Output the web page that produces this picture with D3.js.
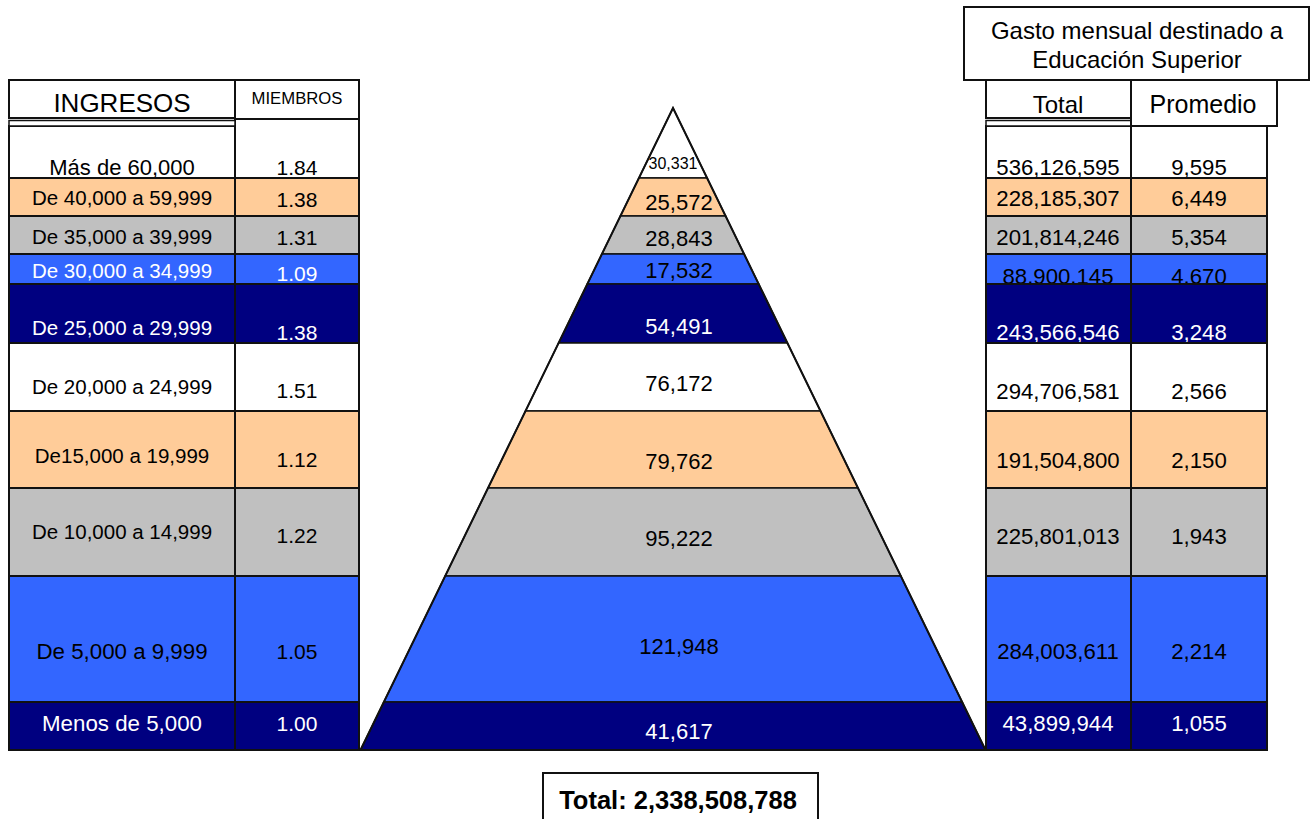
<!DOCTYPE html>
<html>
<head>
<meta charset="utf-8">
<script src="https://cdn.jsdelivr.net/npm/d3@7"></script>
<style>
  body { margin: 0; background: #fff; }
  svg { display: block; font-family: "Liberation Sans", Arial, sans-serif; }
</style>
</head>
<body>
<svg id="chart" width="1316" height="819"></svg>
<script>
// data
const ingresos = ["Más de 60,000", "De 40,000 a 59,999", "De 35,000 a 39,999", "De 30,000 a 34,999",
  "De 25,000 a 29,999", "De 20,000 a 24,999", "De15,000 a 19,999", "De 10,000 a 14,999",
  "De 5,000 a 9,999", "Menos de 5,000"];
const miembros = [1.84, 1.38, 1.31, 1.09, 1.38, 1.51, 1.12, 1.22, 1.05, 1.00];
const hogares = [30331, 25572, 28843, 17532, 54491, 76172, 79762, 95222, 121948, 41617];
const gastoTotal = [536126595, 228185307, 201814246, 88900145, 243566546, 294706581,
  191504800, 225801013, 284003611, 43899944];
const gastoPromedio = [9595, 6449, 5354, 4670, 3248, 2566, 2150, 1943, 2214, 1055];

// layout (row edges follow the spreadsheet rows)
const rowEdges = [126, 178, 216, 254, 284, 343, 411, 488, 576, 702, 750];
const labelY = [167, 198, 237, 271, 328, 387, 456, 532, 651, 723];
const miembY = [167, 199, 237, 273, 332, 390, 459, 535, 651, 723];
const pyrY = [163, 202, 238, 270, 326, 383, 461, 538, 646, 731];
const rightY = [167, 198, 237, 276, 332, 391, 460, 536, 651, 723];
const labelSize = [22, 20.5, 20.5, 20.5, 20.5, 20.5, 20.5, 20.5, 22.3, 22.3];

const fills = ["#FFFFFF", "#FFCC99", "#C0C0C0", "#3366FF", "#000080",
  "#FFFFFF", "#FFCC99", "#C0C0C0", "#3366FF", "#000080"];
const leftInk = ["#000", "#000", "#000", "#fff", "#fff", "#000", "#000", "#000", "#000", "#fff"];
const midInk = ["#000", "#000", "#000", "#000", "#fff", "#000", "#000", "#000", "#000", "#fff"];
const rightInk = ["#000", "#000", "#000", "#000", "#fff", "#000", "#000", "#000", "#000", "#fff"];

const fmt = d3.format(",");
const fmt2 = d3.format(".2f");

const svg = d3.select("#chart");
const defs = svg.append("defs");
const rows = d3.range(ingresos.length);

// text baseline from a center line
const base = (cy, size) => cy + size * 0.36;

// columns: x edges, first row top
const cols = [
  {id: "ing", x0: 9, x1: 235, top: 126},
  {id: "mie", x0: 235, x1: 359, top: 119},
  {id: "tot", x0: 986, x1: 1131, top: 126},
  {id: "pro", x0: 1131, x1: 1267, top: 119}
];

cols.forEach(c => {
  const g = svg.append("g").attr("class", "col-" + c.id);
  rows.forEach(i => {
    const y0 = i === 0 ? c.top : rowEdges[i];
    const y1 = rowEdges[i + 1];
    g.append("rect")
      .attr("x", c.x0).attr("y", y0)
      .attr("width", c.x1 - c.x0).attr("height", y1 - y0)
      .attr("fill", fills[i])
      .attr("stroke", "#111").attr("stroke-width", 2);
    defs.append("clipPath").attr("id", `clip-${c.id}-${i}`)
      .append("rect").attr("x", c.x0 + 1).attr("y", y0 + 1)
      .attr("width", c.x1 - c.x0 - 2).attr("height", y1 - y0 - 2);
  });
});

function cellText(colId, i, cx, cy, size, txt, ink) {
  svg.append("text")
    .attr("clip-path", `url(#clip-${colId}-${i})`)
    .attr("x", cx).attr("y", base(cy, size))
    .attr("text-anchor", "middle")
    .attr("font-size", size + "px")
    .attr("fill", ink)
    .text(txt);
}

rows.forEach(i => {
  cellText("ing", i, 122, labelY[i], labelSize[i], ingresos[i], leftInk[i]);
  cellText("mie", i, 297, miembY[i], 21, fmt2(miembros[i]), leftInk[i]);
  cellText("tot", i, 1058, rightY[i], 22.2, fmt(gastoTotal[i]), rightInk[i]);
  cellText("pro", i, 1199, rightY[i], 22.2, fmt(gastoPromedio[i]), rightInk[i]);
});

// left headers
svg.append("rect").attr("x", 9).attr("y", 80).attr("width", 226).attr("height", 38)
  .attr("fill", "#fff").attr("stroke", "#111").attr("stroke-width", 2);
svg.append("rect").attr("x", 9).attr("y", 120.5).attr("width", 226).attr("height", 5.5)
  .attr("fill", "#fff").attr("stroke", "#111").attr("stroke-width", 1.5);
svg.append("rect").attr("x", 235).attr("y", 80).attr("width", 124).attr("height", 39)
  .attr("fill", "#fff").attr("stroke", "#111").attr("stroke-width", 2);
svg.append("text").attr("x", 122).attr("y", base(103, 26)).attr("text-anchor", "middle")
  .attr("font-size", "26px").text("INGRESOS");
svg.append("text").attr("x", 297).attr("y", base(98, 16.7)).attr("text-anchor", "middle")
  .attr("font-size", "16.7px").text("MIEMBROS");

// right headers
svg.append("rect").attr("x", 986).attr("y", 80).attr("width", 145).attr("height", 38)
  .attr("fill", "#fff").attr("stroke", "#111").attr("stroke-width", 2);
svg.append("rect").attr("x", 986).attr("y", 120.5).attr("width", 145).attr("height", 5.5)
  .attr("fill", "#fff").attr("stroke", "#111").attr("stroke-width", 1.5);
svg.append("rect").attr("x", 1131).attr("y", 80).attr("width", 146).attr("height", 46)
  .attr("fill", "#fff").attr("stroke", "#111").attr("stroke-width", 2);
svg.append("rect").attr("x", 964).attr("y", 7).attr("width", 345).attr("height", 73)
  .attr("fill", "#fff").attr("stroke", "#111").attr("stroke-width", 2);
svg.append("text").attr("x", 1137).attr("y", base(30, 24)).attr("text-anchor", "middle")
  .attr("font-size", "24px").text("Gasto mensual destinado a");
svg.append("text").attr("x", 1137).attr("y", base(59, 24)).attr("text-anchor", "middle")
  .attr("font-size", "24px").text("Educación Superior");
svg.append("text").attr("x", 1058).attr("y", base(104, 24)).attr("text-anchor", "middle")
  .attr("font-size", "24px").text("Total");
svg.append("text").attr("x", 1203).attr("y", base(104, 25)).attr("text-anchor", "middle")
  .attr("font-size", "25px").text("Promedio");

// pyramid
const apex = {x: 673, y: 108};
const baseY = 750;
const halfW = d3.scaleLinear().domain([apex.y, baseY]).range([0, 312.5]);

const band = i => {
  const y0 = i === 0 ? apex.y : rowEdges[i];
  const y1 = rowEdges[i + 1];
  return [[apex.x - halfW(y0), y0], [apex.x + halfW(y0), y0],
          [apex.x + halfW(y1), y1], [apex.x - halfW(y1), y1]];
};

const pyr = svg.append("g").attr("class", "pyramid");
pyr.selectAll("path.band")
  .data(rows)
  .join("path")
  .attr("class", "band")
  .attr("d", i => d3.line()(band(i)) + "Z")
  .attr("fill", i => fills[i])
  .attr("stroke", "#111")
  .attr("stroke-width", 1.5)
  .attr("stroke-linejoin", "miter");

pyr.append("path")
  .attr("d", d3.line()([[apex.x, apex.y], [apex.x + halfW(baseY), baseY], [apex.x - halfW(baseY), baseY]]) + "Z")
  .attr("fill", "none").attr("stroke", "#111").attr("stroke-width", 2);

pyr.selectAll("text")
  .data(rows)
  .join("text")
  .attr("x", i => i === 0 ? 673 : 679)
  .attr("y", i => base(pyrY[i], i === 0 ? 16 : 22))
  .attr("text-anchor", "middle")
  .attr("font-size", i => (i === 0 ? 16 : 22) + "px")
  .attr("fill", i => midInk[i])
  .text(i => fmt(hogares[i]));

// total box
svg.append("rect").attr("x", 543).attr("y", 773).attr("width", 275).attr("height", 60)
  .attr("fill", "#fff").attr("stroke", "#111").attr("stroke-width", 2);
svg.append("text").attr("x", 678).attr("y", base(800, 25.5)).attr("text-anchor", "middle")
  .attr("font-size", "25.5px").attr("font-weight", "bold")
  .text("Total: " + fmt(d3.sum(gastoTotal)));
</script>
</body>
</html>
